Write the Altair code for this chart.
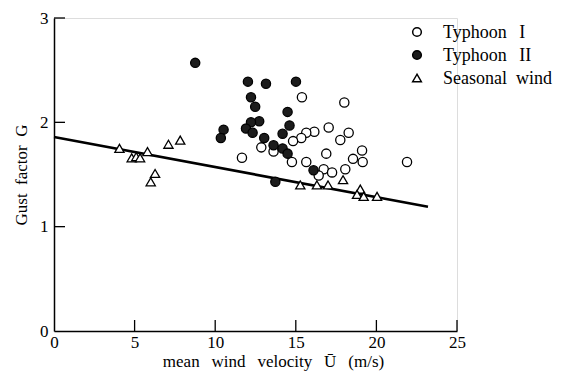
import altair as alt
import pandas as pd

# ---- data ----
typhoon1_u = [15.38, 18.01, 17.04, 16.15, 15.65, 15.34, 14.83, 18.28, 17.76, 19.11, 18.55, 19.15,
              16.89, 15.65, 14.76, 12.86, 13.62, 11.66, 16.73, 17.25, 18.07, 16.42, 21.9]
typhoon1_g = [2.24, 2.19, 1.95, 1.91, 1.90, 1.85, 1.82, 1.90, 1.83, 1.73, 1.65, 1.62,
              1.70, 1.62, 1.62, 1.76, 1.72, 1.66, 1.55, 1.52, 1.55, 1.49, 1.62]

typhoon2_u = [8.76, 12.03, 13.15, 15.01, 12.22, 12.48, 14.49, 14.61, 14.18, 12.73, 12.22, 11.91,
              12.32, 10.52, 10.35, 13.04, 13.62, 14.18, 14.49, 13.73, 16.1]
typhoon2_g = [2.57, 2.39, 2.37, 2.39, 2.24, 2.15, 2.10, 1.97, 1.89, 2.01, 2.00, 1.94,
              1.90, 1.93, 1.85, 1.85, 1.78, 1.75, 1.70, 1.43, 1.54]

seasonal_u = [4.06, 4.82, 5.1, 5.34, 5.8, 6.27, 6.0, 7.1, 7.83, 15.28, 16.31, 17.0, 17.93,
              19.0, 18.8, 19.21, 20.04]
seasonal_g = [1.75, 1.66, 1.67, 1.66, 1.72, 1.51, 1.43, 1.79, 1.83, 1.40, 1.40, 1.40, 1.45,
              1.36, 1.31, 1.29, 1.29]

fit_u = [0, 23.2]
fit_g = [1.86, 1.19]

x_ticks = [0, 5, 10, 15, 20, 25]
y_ticks = [0, 1, 2, 3]

series_names = ["Typhoon\u2002\u2009I", "Typhoon\u2002\u2009II", "Seasonal\u2002wind"]

rows = []
for u, g in zip(typhoon1_u, typhoon1_g):
    rows.append({"U": u, "G": g, "series": series_names[0], "ord": 0})
for u, g in zip(typhoon2_u, typhoon2_g):
    rows.append({"U": u, "G": g, "series": series_names[1], "ord": 1})
for u, g in zip(seasonal_u, seasonal_g):
    rows.append({"U": u, "G": g, "series": series_names[2], "ord": 2})
pts = pd.DataFrame(rows)
fit = pd.DataFrame({"U": fit_u, "G": fit_g})
xt = pd.DataFrame({"U": x_ticks[1:]})
yt = pd.DataFrame({"G": y_ticks[1:]})
leg = pd.DataFrame({"series": series_names, "row": [0, 1, 2]})

FONT = "Liberation Serif, Times New Roman, DejaVu Serif, serif"
xs = alt.Scale(domain=[0, 25], nice=False, zero=False)
ys = alt.Scale(domain=[0, 3], nice=False, zero=False)
shape_scale = alt.Scale(domain=series_names, range=["circle", "circle", "triangle-up"])
fill_scale = alt.Scale(domain=series_names, range=["white", "#1c1c1c", "white"])

x_axis = alt.Axis(values=x_ticks, format="d", ticks=False, grid=False, domainColor="black",
                  domainWidth=1.5, labelFont=FONT, labelFontSize=17, labelColor="black",
                  labelPadding=3, labelFlush=False, labelOverlap=False,
                  title="mean\u2002\u2009wind\u2002\u2009velocity\u2002\u2009\u016a\u2002\u2009(m/s)",
                  titleFont=FONT, titleFontSize=17, titleFontWeight="normal", titleColor="black",
                  titlePadding=3, titleX=219)
y_axis = alt.Axis(values=y_ticks, format="d", ticks=False, grid=False, domainColor="black",
                  domainWidth=1.5, labelFont=FONT, labelFontSize=17, labelColor="black",
                  labelPadding=6, labelFlush=False, labelOverlap=False,
                  title="Gust\u2002factor\u2002G", titleFont=FONT, titleFontSize=17,
                  titleFontWeight="normal", titleColor="black", titlePadding=9)

points = alt.Chart(pts).mark_point(filled=True, opacity=1, stroke="black", strokeWidth=1.3).encode(
    x=alt.X("U:Q", scale=xs, axis=x_axis),
    y=alt.Y("G:Q", scale=ys, axis=y_axis),
    shape=alt.Shape("series:N", scale=shape_scale, legend=None),
    fill=alt.Fill("series:N", scale=fill_scale, legend=None),
    size=alt.Size("series:N", scale=alt.Scale(domain=series_names, range=[85, 85, 150]), legend=None),
    order=alt.Order("ord:Q"),
)

# legend drawn as its own small layer (pixel layout inside the plot area)
leg_sym = alt.Chart(leg).transform_calculate(py="14 + datum.row * 23").mark_point(
    filled=True, opacity=1, stroke="black", strokeWidth=1.5, size=75).encode(
    x=alt.value(363),
    y=alt.Y("py:Q", scale=None),
    shape=alt.Shape("series:N", scale=shape_scale, legend=None),
    fill=alt.Fill("series:N", scale=fill_scale, legend=None),
)
leg_txt = alt.Chart(leg).transform_calculate(py="15 + datum.row * 23").mark_text(
    align="left", baseline="middle", font=FONT, fontSize=18, color="black").encode(
    x=alt.value(389),
    y=alt.Y("py:Q", scale=None),
    text="series:N",
)

line = alt.Chart(fit).mark_line(color="black", strokeWidth=2.6).encode(
    x=alt.X("U:Q", scale=xs), y=alt.Y("G:Q", scale=ys))

xtick = alt.Chart(xt).mark_rule(color="black", strokeWidth=1.3).encode(
    x=alt.X("U:Q", scale=xs), y=alt.value(313), y2=alt.value(302))
ytick = alt.Chart(yt).mark_rule(color="black", strokeWidth=1.3).encode(
    y=alt.Y("G:Q", scale=ys), x=alt.value(0), x2=alt.value(11))

chart = alt.layer(line, points, xtick, ytick, leg_sym, leg_txt).properties(
    width=403, height=313,
    autosize=alt.AutoSizeParams(type="none"),
    padding={"left": 46, "top": 10, "right": 100, "bottom": 43},
).configure_view(stroke=None).configure(background="white").configure_axis(
    labelFont=FONT, titleFont=FONT)

chart.save("out.html", embed_options={"renderer": "svg", "actions": False})
